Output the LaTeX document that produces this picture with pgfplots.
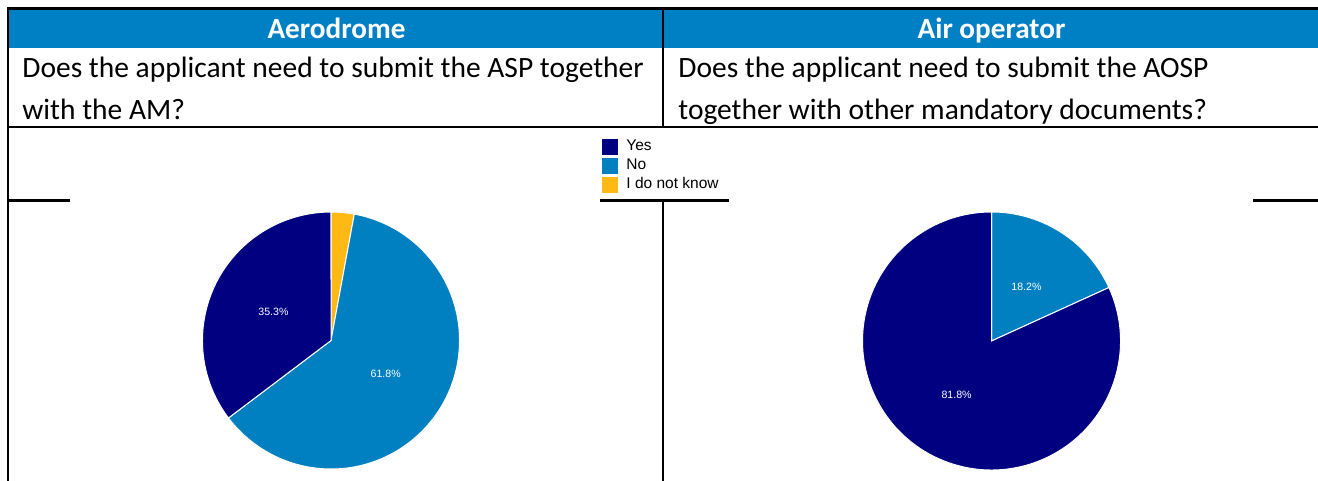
\documentclass[border=0pt]{standalone}
\usepackage{pgfplots}
\pgfplotsset{compat=1.18}
\usepackage{pgfplotstable}
\usepackage{fontspec}
\setmainfont{Carlito}
\newfontfamily\arial{Liberation Sans}
\definecolor{hdr}{HTML}{0080C4}
\definecolor{cYes}{HTML}{000080}
\definecolor{cNo}{HTML}{0080C0}
\definecolor{cIdk}{HTML}{FFB914}
\newcommand\labelfont{\arial\fontsize{5.3}{6.4}\selectfont}

% Aerodrome: slices clockwise from 12 o'clock
\pgfplotstableread{
label value color
Idk 2.9 cIdk
No 61.8 cNo
Yes 35.3 cYes
}\aerodata
% Air operator
\pgfplotstableread{
label value color
No 18.2 cNo
Yes 81.8 cYes
}\airdata

\newcommand\drawpie[2]{%
  \pgfplotstablegetrowsof{#1}%
  \pgfmathtruncatemacro\nrows{\pgfplotsretval-1}%
  \def\R{#2}%
  \def\cum{0}%
  \pgfplotsforeachungrouped \ii in {0,...,\nrows}{%
    \pgfplotstablegetelem{\ii}{value}\of{#1}\let\sval\pgfplotsretval
    \pgfplotstablegetelem{\ii}{color}\of{#1}\let\scol\pgfplotsretval
    \pgfmathsetmacro\sa{90-3.6*\cum}%
    \pgfmathsetmacro\ea{90-3.6*(\cum+\sval)}%
    \pgfmathsetmacro\ma{(\sa+\ea)/2}%
    \pgfmathsetmacro\xs{\R*cos(\sa)}%
    \pgfmathsetmacro\ys{\R*sin(\sa)}%
    \pgfmathsetmacro\xl{0.5*\R*cos(\ma)}%
    \pgfmathsetmacro\yl{0.5*\R*sin(\ma)}%
    \edef\temp{\noexpand\fill[\scol, draw=white, line width=0.5pt] (axis cs:0,0) -- (axis cs:\xs,\ys) arc[start angle=\sa, end angle=\ea, radius=\R pt] -- cycle;}%
    \temp
    \pgfmathtruncatemacro\showlab{\sval>5}%
    \ifnum\showlab=1
      \edef\temp{\noexpand\node[text=white, font=\noexpand\labelfont, inner sep=0pt] at (axis cs:\xl,\yl) {\sval\noexpand\%};}%
      \temp
    \fi
    \pgfmathsetmacro\cum{\cum+\sval}%
  }%
}

\pgfplotsset{
  pieaxis/.style={
    hide axis, x=1pt, y=1pt, scale only axis,
    xmin=-64.25, xmax=64.25, ymin=-64.25, ymax=64.25,
    anchor=center, clip=false,
  }
}

\begin{document}
\begin{tikzpicture}
\useasboundingbox (0,0) rectangle (659pt,240.5pt);
\begin{scope}[shift={(0,240.5pt)}, x=0.5pt, y=-0.5pt]
  \fill[hdr] (9,9) rectangle (1318,48);
  \draw[line width=1.3pt] (7.4,8.6) -- (1318,8.6);
  \draw[line width=1.3pt] (8,8) -- (8,481);
  \draw[line width=1.3pt] (663,8) -- (663,127);
  \draw[line width=1.3pt] (663,200) -- (663,481);
  \draw[line width=1.3pt] (8,127) -- (1318,127);
  \draw[line width=1.3pt] (8,200.5) -- (70,200.5);
  \draw[line width=1.3pt] (600,200.5) -- (729,200.5);
  \draw[line width=1.3pt] (1253,200.5) -- (1318,200.5);
  \node[anchor=base, inner sep=0pt, text=white, font=\bfseries\fontsize{14.6}{17}\selectfont] at (336.5,38.5) {Aerodrome};
  \node[anchor=base, inner sep=0pt, text=white, font=\bfseries\fontsize{14.6}{17}\selectfont] at (991.5,38.5) {Air operator};
  \begin{scope}[every node/.style={anchor=base west, inner sep=0pt, font=\fontsize{14.75}{17}\selectfont}]
    \node at (22,78) {Does the applicant need to submit the ASP together};
    \node at (22,119.5) {with the AM?};
    \node at (678,78) {Does the applicant need to submit the AOSP};
    \node at (678,119.5) {together with other mandatory documents?};
  \end{scope}
\end{scope}

\begin{axis}[pieaxis, at={(165.5pt,70.25pt)},
  legend style={at={(axis description cs:1.5545,1.2918)}, anchor=north west,
    draw=none, fill=none, inner sep=0pt, row sep=0pt, column sep=3pt,
    nodes={inner sep=1pt, text height=5.75pt, text depth=1.75pt},
    font=\arial\fontsize{7.75}{9}\selectfont},
  legend cell align=left,
  legend image code/.code={\fill[#1] (0pt,-4.1pt) rectangle (8pt,4.1pt);}]
  \drawpie{\aerodata}{64.25}
  \addlegendimage{fill=cYes, draw=none}
  \addlegendentry{Yes}
  \addlegendimage{fill=cNo, draw=none}
  \addlegendentry{No}
  \addlegendimage{fill=cIdk, draw=none}
  \addlegendentry{I do not know}
\end{axis}

\begin{axis}[pieaxis, at={(495.75pt,70pt)}]
  \drawpie{\airdata}{64.5}
\end{axis}
\end{tikzpicture}
\end{document}
